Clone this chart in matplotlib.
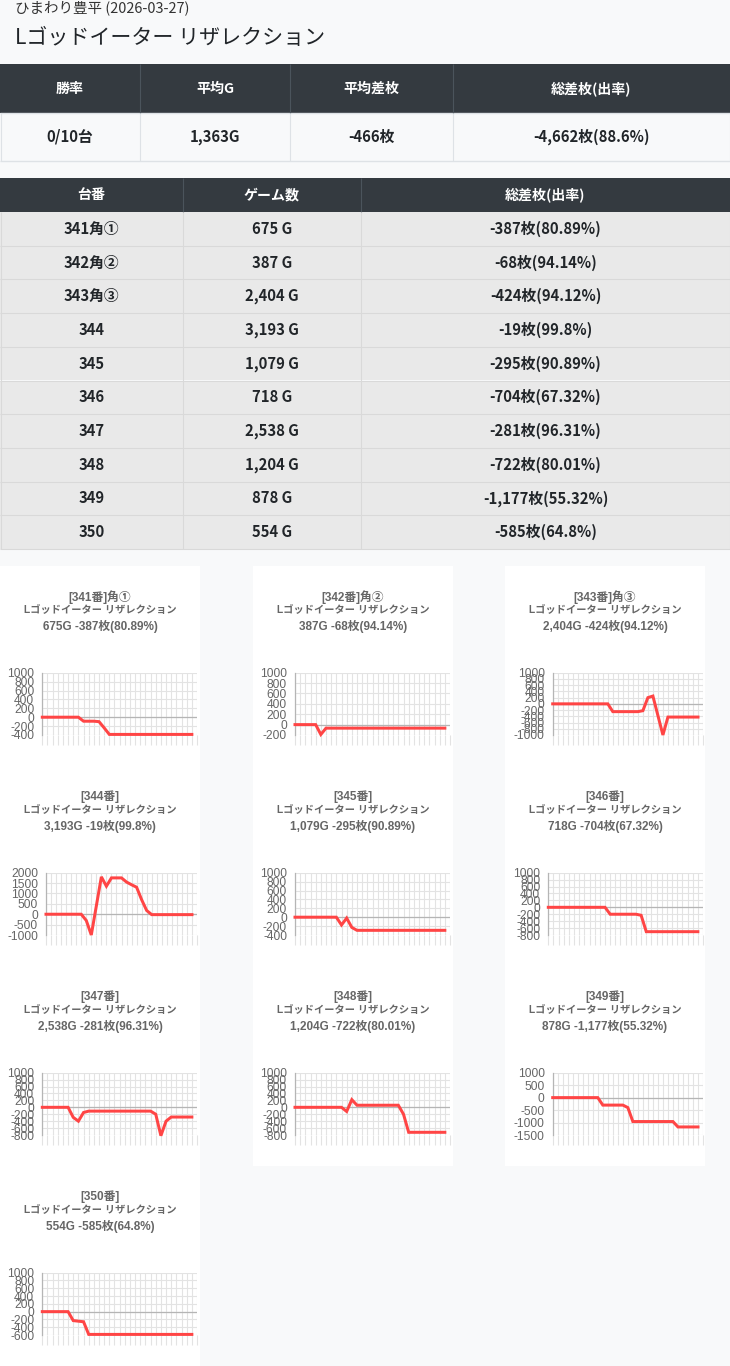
import matplotlib
matplotlib.use('Agg')
import matplotlib.pyplot as plt
from matplotlib.patches import Rectangle
import numpy as np

W, H = 730, 1366

# ---------------- data ----------------
store_title = "ひまわり豊平 (2026-03-27)"
machine_title = "Lゴッドイーター リザレクション"

summary_headers = ["勝率", "平均G", "平均差枚", "総差枚(出率)"]
summary_values = ["0/10台", "1,363G", "-466枚", "-4,662枚(88.6%)"]

detail_headers = ["台番", "ゲーム数", "総差枚(出率)"]
machines = ["341角①", "342角②", "343角③", "344", "345", "346", "347", "348", "349", "350"]
games = [675, 387, 2404, 3193, 1079, 718, 2538, 1204, 878, 554]
diffs = [-387, -68, -424, -19, -295, -704, -281, -722, -1177, -585]
rates = ["80.89", "94.14", "94.12", "99.8", "90.89", "67.32", "96.31", "80.01", "55.32", "64.8"]

s341 = [0, 0, 0, 0, 0, 0, 0, 0, -90, -90, -90, -100, -240, -387, -387, -387, -387, -387, -387, -387,
        -387, -387, -387, -387, -387, -387, -387, -387, -387, -387]
s342 = [0, 0, 0, 0, 0, -190, -68, -68, -68, -68, -68, -68, -68, -68, -68, -68, -68, -68, -68, -68,
        -68, -68, -68, -68, -68, -68, -68, -68, -68, -68]
s343 = [0, 0, 0, 0, 0, 0, 0, 0, 0, 0, 0, 0, -250, -250, -250, -250, -250, -250, -220, 200,
        250, -375, -1000, -424, -424, -424, -424, -424, -424, -424]
s344 = [0, 0, 0, 0, 0, 0, 0, 0, -300, -1000, 400, 1800, 1350, 1750, 1750, 1750, 1550, 1420, 1300, 700,
        180, -19, -19, -19, -19, -19, -19, -19, -19, -19]
s345 = [0, 0, 0, 0, 0, 0, 0, 0, 0, -175, -20, -230, -295, -295, -295, -295, -295, -295, -295, -295,
        -295, -295, -295, -295, -295, -295, -295, -295, -295, -295]
s346 = [0, 0, 0, 0, 0, 0, 0, 0, 0, 0, 0, 0, -200, -200, -200, -200, -200, -200, -230, -704,
        -704, -704, -704, -704, -704, -704, -704, -704, -704, -704]
s347 = [0, 0, 0, 0, 0, 0, -290, -400, -150, -110, -110, -110, -110, -110, -110, -110, -110, -110, -110, -110,
        -110, -110, -200, -820, -400, -281, -281, -281, -281, -281]
s348 = [0, 0, 0, 0, 0, 0, 0, 0, 0, 0, -120, 220, 60, 60, 60, 60, 60, 60, 60, 60,
        60, -200, -722, -722, -722, -722, -722, -722, -722, -722]
s349 = [0, 0, 0, 0, 0, 0, 0, 0, 0, 0, -300, -300, -300, -300, -300, -400, -960, -960, -960, -960,
        -960, -960, -960, -960, -960, -1177, -1177, -1177, -1177, -1177]
s350 = [0, 0, 0, 0, 0, 0, -230, -245, -260, -585, -585, -585, -585, -585, -585, -585, -585, -585, -585, -585,
        -585, -585, -585, -585, -585, -585, -585, -585, -585, -585]
series = [s341, s342, s343, s344, s345, s346, s347, s348, s349, s350]

# y axis (min, max, step) per chart
y_ranges = [(-400, 1000, 200), (-200, 1000, 200), (-1000, 1000, 200), (-1000, 2000, 500),
            (-400, 1000, 200), (-800, 1000, 200), (-800, 1000, 200), (-800, 1000, 200),
            (-1500, 1000, 500), (-600, 1000, 200)]

# ---------------- layout ----------------
PX = 0.72  # px -> pt at dpi 100
JP = ['Noto Sans CJK JP', 'DejaVu Sans']
CH = ['Liberation Sans', 'Noto Sans CJK JP', 'DejaVu Sans']

fig = plt.figure(figsize=(W / 100, H / 100), dpi=100)
fig.patch.set_facecolor('#f8f9fa')
bg = fig.add_axes([0, 0, 1, 1])
bg.set_xlim(0, W)
bg.set_ylim(H, 0)
bg.axis('off')
bg.set_facecolor('#f8f9fa')


def rect(x0, y0, x1, y1, fc, ec='none', lw=0, z=1):
    bg.add_patch(Rectangle((x0, y0), x1 - x0, y1 - y0, facecolor=fc, edgecolor=ec, linewidth=lw, zorder=z))


def vline(x, y0, y1, c, lw=0.8, z=2):
    bg.plot([x, x], [y0, y1], color=c, lw=lw, zorder=z, solid_capstyle='butt')


def hline(y, x0, x1, c, lw=0.8, z=2):
    bg.plot([x0, x1], [y, y], color=c, lw=lw, zorder=z, solid_capstyle='butt')


bg.text(15, 8, store_title, fontsize=14.5 * PX, family=JP, color='#333333', va='center', ha='left')
bg.text(15, 38, machine_title, fontsize=21 * PX, family=JP, color='#212529', va='center', ha='left')

TF = 14.8 * PX  # table font

# summary table
sx = [0, 140, 290, 453, 730]
rect(0, 64, W, 113, '#343a40')
rect(0, 113, W, 161, '#f8f9fa')
hline(113, 0, W, '#dee2e6', 1.0)
hline(161, 0, W, '#dee2e6', 1.0)
vline(0.5, 113, 161, '#dee2e6')
vline(729.5, 113, 161, '#dee2e6')
for i in range(4):
    cx = (sx[i] + sx[i + 1]) / 2
    bg.text(cx, 88.5, summary_headers[i], fontsize=14 * PX, family=JP, weight='bold', color='white',
            ha='center', va='center', zorder=3)
    bg.text(cx, 137, summary_values[i], fontsize=TF, family=JP, weight='bold', color='#212529',
            ha='center', va='center', zorder=3)
    if i > 0:
        vline(sx[i], 64, 113, '#4b545c')
        vline(sx[i], 113, 161, '#dee2e6')

# detail table
dx = [0, 183, 361, 730]
rect(0, 178, W, 212, '#343a40')
row_h = (549 - 212) / 10
for j in range(1, 3):
    vline(dx[j], 178, 212, '#4b545c')
for k in range(3):
    bg.text((dx[k] + dx[k + 1]) / 2, 195, detail_headers[k], fontsize=14 * PX, family=JP, weight='bold',
            color='white', ha='center', va='center', zorder=3)
for i in range(10):
    y0 = 212 + i * row_h
    rect(0, y0, W, y0 + row_h, '#e9e9e9')
    hline(y0 + row_h, 0, W, '#d9d9d9', 0.8)
    for j in range(1, 3):
        vline(dx[j], y0, y0 + row_h, '#d9d9d9')
    cells = [machines[i], f"{games[i]:,} G", f"{diffs[i]:,}枚({rates[i]}%)"]
    for k in range(3):
        bg.text((dx[k] + dx[k + 1]) / 2, y0 + row_h / 2, cells[k], fontsize=TF, family=JP,
                weight='bold', color='#212529', ha='center', va='center', zorder=3)
vline(0.5, 212, 549, '#d9d9d9')
vline(729.5, 212, 549, '#d9d9d9')

# chart cards
card_x = [0, 253, 505]
plot_left = [42.3, 295, 552.7, 46, 295, 548.3, 42.3, 295, 552.7, 42.3]
plot_right = [197, 450, 703]
for idx in range(10):
    row, col = divmod(idx, 3)
    x0 = card_x[col]
    y0 = 566 + 200 * row
    rect(x0, y0, x0 + 200, y0 + 200, 'white', z=1)
    cx = x0 + 100
    name = machines[idx]
    t1 = f"[{name[:3]}番]{name[3:]}"
    t3 = f"{games[idx]:,}G {diffs[idx]:,}枚({rates[idx]}%)"
    for t, ty, fs in zip([t1, machine_title, t3], [597, 610.5, 626], [11.8, 10.2, 11.8]):
        bg.text(cx, ty + 200 * row, t, fontsize=fs * PX, family=CH, weight='bold', color='#666666',
                ha='center', va='center', zorder=3)

    left = plot_left[idx]
    right = plot_right[col]
    top = 672.7 + 200 * row
    bottom = 735 + 200 * row
    ax = fig.add_axes([left / W, 1 - bottom / H, (right - left) / W, (bottom - top) / H])
    ax.set_facecolor('white')
    ymin, ymax, step = y_ranges[idx]
    yt = np.arange(ymin, ymax + step, step)
    ax.set_ylim(ymin, ymax)
    ax.set_xlim(0, 30)
    ax.set_yticks(yt)
    ax.set_yticklabels([str(v) for v in yt], family='Liberation Sans', fontsize=12 * PX, color='#666666')
    ax.set_xticks(np.arange(0, 31))
    ax.set_xticklabels([])
    ax.tick_params(axis='x', length=10 * PX, width=0.8, color='#e3e3e3', direction='out')
    ax.tick_params(axis='y', length=0, pad=8 * PX)
    ax.grid(True, color='#e3e3e3', lw=0.8)
    ax.set_axisbelow(True)
    for sp in ['top', 'right', 'bottom']:
        ax.spines[sp].set_visible(False)
    ax.spines['left'].set_color('#b5b5b5')
    ax.spines['left'].set_linewidth(0.9)
    ax.axhline(0, color='#b5b5b5', lw=0.9, zorder=1.5)
    ax.plot(np.arange(len(series[idx])), series[idx], color='#ff4545', lw=3 * PX, zorder=3,
            solid_joinstyle='miter', clip_on=False)

fig.savefig('out.png', dpi=100, facecolor=fig.get_facecolor())
